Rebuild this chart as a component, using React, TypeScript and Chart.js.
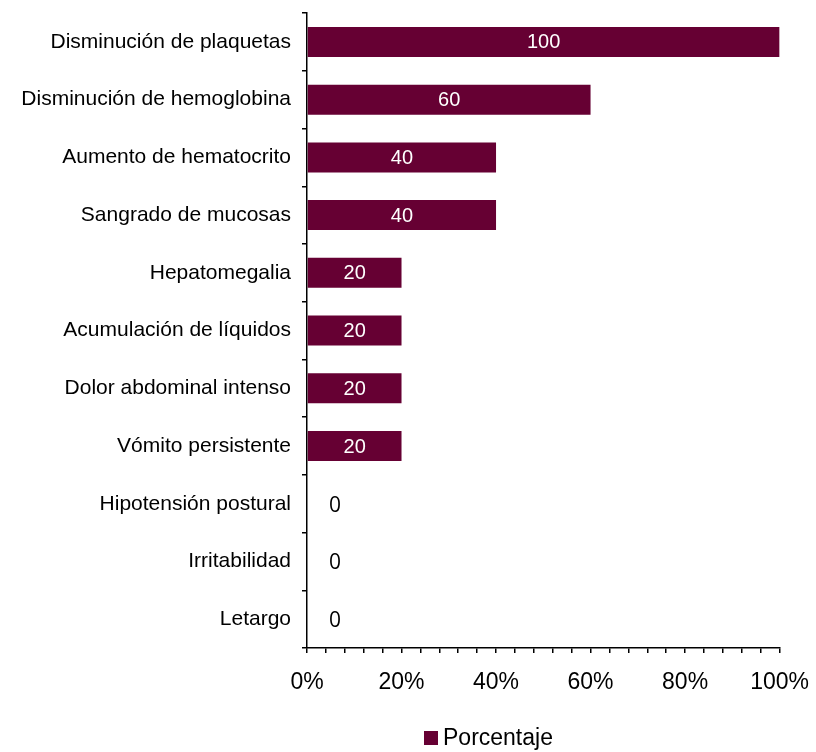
import React, { useEffect, useRef } from "react";
import { Chart, registerables } from "chart.js";

Chart.register(...registerables);

const categories = [
  "Disminución de plaquetas",
  "Disminución de hemoglobina",
  "Aumento de hematocrito",
  "Sangrado de mucosas",
  "Hepatomegalia",
  "Acumulación de líquidos",
  "Dolor abdominal intenso",
  "Vómito persistente",
  "Hipotensión postural",
  "Irritabilidad",
  "Letargo",
];
const porcentaje = [100, 60, 40, 40, 20, 20, 20, 20, 0, 0, 0];
const seriesLabel = "Porcentaje";
const xMax = 100;
const xStep = 4;
const xLabelEvery = 20;

const BAR = "#660033";
const ARIAL = "'Liberation Sans', Arial, sans-serif";

const labelPlugin = {
  id: "barLabels",
  afterDatasetsDraw(chart: any) {
    const ctx = chart.ctx;
    const meta = chart.getDatasetMeta(0);
    const data = chart.data.datasets[0].data as number[];
    ctx.save();
    ctx.textBaseline = "middle";
    ctx.textAlign = "center";
    meta.data.forEach((bar: any, i: number) => {
      const v = data[i];
      if (v > 0) {
        ctx.fillStyle = "#ffffff";
        ctx.font = "20px " + ARIAL;
        ctx.fillText(String(v), (bar.base + bar.x) / 2, bar.y + 1);
      } else {
        ctx.fillStyle = "#000000";
        ctx.font = "21px 'Open Sans', sans-serif";
        ctx.fillText(String(v), bar.x + 28, bar.y + 2);
      }
    });
    ctx.restore();
  },
  afterDraw(chart: any) {
    const ctx = chart.ctx;
    const ds = chart.data.datasets[0];
    ctx.save();
    ctx.fillStyle = ds.backgroundColor;
    ctx.fillRect(424, 731, 14, 14);
    ctx.fillStyle = "#000";
    ctx.font = "23px " + ARIAL;
    ctx.textBaseline = "middle";
    ctx.textAlign = "left";
    ctx.fillText(ds.label, 443, 739);
    ctx.restore();
  },
};

export default function App() {
  const ref = useRef<HTMLCanvasElement>(null);
  useEffect(() => {
    document.body.style.margin = "0";
    const chart = new Chart(ref.current!, {
      type: "bar",
      data: {
        labels: categories,
        datasets: [
          {
            label: seriesLabel,
            data: porcentaje,
            backgroundColor: BAR,
            borderWidth: 0,
            categoryPercentage: 1,
            barPercentage: 0.52,
          },
        ],
      },
      options: {
        indexAxis: "y",
        animation: false,
        responsive: false,
        layout: { padding: { top: 0, right: 0, left: 0, bottom: 0 } },
        plugins: {
          tooltip: { enabled: false },
          legend: { display: false },
        },
        scales: {
          x: {
            min: 0,
            max: xMax,
            afterFit: (s: any) => {
              s.height = 104;
            },
            border: { color: "#000", width: 1.5 },
            grid: {
              drawOnChartArea: false,
              drawTicks: true,
              tickLength: 5,
              color: "#000",
              lineWidth: 1.5,
            },
            ticks: {
              stepSize: xStep,
              autoSkip: false,
              maxRotation: 0,
              padding: 7,
              color: "#000",
              font: { family: ARIAL, size: 23, lineHeight: 2.0 },
              callback: (v: any) => (Number(v) % xLabelEvery === 0 ? v + "%" : ""),
            },
          },
          y: {
            afterFit: (s: any) => {
              s.width = 307;
            },
            border: { color: "#000", width: 1.5 },
            grid: {
              drawOnChartArea: false,
              drawTicks: true,
              tickLength: 5,
              color: "#000",
              lineWidth: 1.5,
              offset: true,
            },
            ticks: {
              autoSkip: false,
              padding: 11,
              color: "#000",
              font: { family: ARIAL, size: 21, lineHeight: 0.2 },
            },
          },
        },
      },
      plugins: [labelPlugin],
    });
    return () => chart.destroy();
  }, []);
  return (
    <div style={{ width: 816, height: 752 }}>
      <canvas ref={ref} width={816} height={752} style={{ display: "block" }} />
    </div>
  );
}
